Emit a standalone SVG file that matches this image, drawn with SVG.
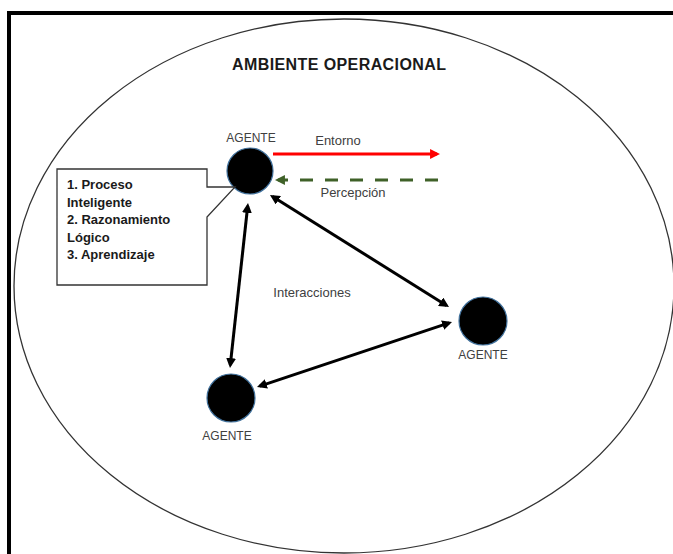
<svg xmlns="http://www.w3.org/2000/svg" width="673" height="554" viewBox="0 0 673 554">
<style>
  .lbl { font-family: "Liberation Sans", Arial, sans-serif; fill: #404040; }
  .bold { font-family: "Liberation Sans", Arial, sans-serif; font-weight: bold; fill: #1a1a1a; }
  .agent { fill: #000; stroke: #41719c; stroke-width: 1.2; }
  .link { fill: none; stroke: #000; stroke-width: 3; }
</style>
<defs>
  <marker id="ahBlack" viewBox="0 0 10 10" refX="7" refY="5" markerWidth="3.3" markerHeight="3.3" orient="auto-start-reverse" markerUnits="strokeWidth">
    <path d="M0,0 L10,5 L0,10 Z" fill="#000"/>
  </marker>
  <marker id="ahRed" viewBox="0 0 10 10" refX="7" refY="5" markerWidth="3.3" markerHeight="3.3" orient="auto" markerUnits="strokeWidth">
    <path d="M0,0 L10,5 L0,10 Z" fill="#ff0000"/>
  </marker>
  <marker id="ahGreen" viewBox="0 0 10 10" refX="7" refY="5" markerWidth="3.3" markerHeight="3.3" orient="auto" markerUnits="strokeWidth">
    <path d="M0,0 L10,5 L0,10 Z" fill="#3f6128"/>
  </marker>
</defs>
<rect x="0" y="0" width="673" height="554" fill="#fff"/>
<rect x="9" y="13" width="720" height="620" fill="none" stroke="#000" stroke-width="4"/>
<g id="ambiente">
  <ellipse cx="344" cy="286" rx="330" ry="267" fill="none" stroke="#333" stroke-width="1.3"/>
  <text class="bold" x="339" y="70" font-size="16" text-anchor="middle" textLength="214">AMBIENTE OPERACIONAL</text>
</g>
<g id="connectors">
  <line x1="273" y1="154" x2="437" y2="154" stroke="#ff0000" stroke-width="3" marker-end="url(#ahRed)"/>
  <text class="lbl" x="338" y="145" font-size="13" text-anchor="middle">Entorno</text>
  <line x1="438" y1="180" x2="278" y2="180" stroke="#3f6128" stroke-width="3" stroke-dasharray="13,12" marker-end="url(#ahGreen)"/>
  <text class="lbl" x="353" y="197" font-size="13" text-anchor="middle">Percepción</text>
  <line class="link" x1="272.5" y1="196.6" x2="446.5" y2="305.4" marker-start="url(#ahBlack)" marker-end="url(#ahBlack)"/>
  <line class="link" x1="247.7" y1="206" x2="230.3" y2="365" marker-start="url(#ahBlack)" marker-end="url(#ahBlack)"/>
  <line class="link" x1="449.2" y1="322.9" x2="259.8" y2="386.1" marker-start="url(#ahBlack)" marker-end="url(#ahBlack)"/>
  <text class="lbl" x="312" y="297" font-size="13" text-anchor="middle">Interacciones</text>
</g>
<g id="agente-1">
  <circle class="agent" cx="250" cy="171" r="23"/>
  <text class="lbl" x="251" y="142" font-size="12" text-anchor="middle">AGENTE</text>
</g>
<g id="callout">
  <path d="M57,169 H207 V187 L235,187 L207,217 V285 H57 Z" fill="#fff" stroke="#333" stroke-width="1.3"/>
  <text class="bold" font-size="13">
    <tspan x="67" y="189">1. Proceso</tspan>
    <tspan x="67" y="206.5">Inteligente</tspan>
    <tspan x="67" y="224">2. Razonamiento</tspan>
    <tspan x="67" y="241.5">Lógico</tspan>
    <tspan x="67" y="259">3. Aprendizaje</tspan>
  </text>
</g>
<g id="agente-2">
  <circle class="agent" cx="483" cy="321" r="24"/>
  <text class="lbl" x="483" y="359" font-size="12" text-anchor="middle">AGENTE</text>
</g>
<g id="agente-3">
  <circle class="agent" cx="231" cy="398" r="24"/>
  <text class="lbl" x="227" y="440" font-size="12" text-anchor="middle">AGENTE</text>
</g>
</svg>
